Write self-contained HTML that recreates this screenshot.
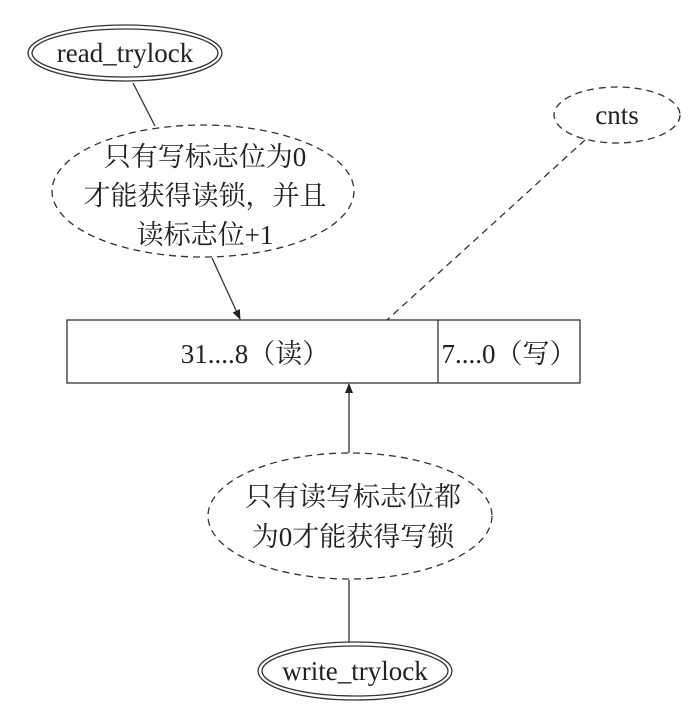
<!DOCTYPE html>
<html><head><meta charset="utf-8"><style>
html,body{margin:0;padding:0;background:#fff;}
</style></head><body>
<svg width="696" height="709" viewBox="0 0 696 709" xmlns="http://www.w3.org/2000/svg">
<defs><marker id="a" markerWidth="10" markerHeight="10" refX="9" refY="5" orient="auto" markerUnits="userSpaceOnUse"><path d="M0,1 L10,5 L0,9 Z" fill="#222"/></marker></defs>
<g fill="none" stroke="#333" stroke-width="1.3">
<ellipse cx="125" cy="53" rx="97" ry="28"/>
<ellipse cx="125" cy="53" rx="93" ry="24"/>
<ellipse cx="203" cy="191" rx="151" ry="66" stroke-dasharray="7,5"/>
<ellipse cx="617" cy="115" rx="63" ry="28" stroke-dasharray="7,5"/>
<line x1="133" y1="83" x2="155" y2="126"/>
<line x1="212" y1="258" x2="240" y2="319" marker-end="url(#a)"/>
<line x1="585" y1="140" x2="387" y2="320" stroke-dasharray="7,5"/>
<rect x="67" y="320" width="513" height="63"/>
<line x1="438" y1="320" x2="438" y2="383"/>
<line x1="349" y1="453" x2="349" y2="384" marker-end="url(#a)"/>
<ellipse cx="350" cy="516" rx="142" ry="63" stroke-dasharray="7,5"/>
<line x1="349" y1="580" x2="349" y2="642"/>
<ellipse cx="355" cy="671" rx="97" ry="29"/>
<ellipse cx="355" cy="671" rx="93" ry="25"/>
</g>
<g font-size="27" text-anchor="middle" fill="#222" font-family="'Liberation Serif','Noto Serif CJK SC',serif">
<text x="125" y="62">read_trylock</text>
<text x="205" y="166">只有写标志位为0</text>
<text x="205" y="205">才能获得读锁，并且</text>
<text x="205" y="244">读标志位+1</text>
<text x="617" y="124">cnts</text>
<text x="255" y="363">31....8（读）</text>
<text x="509" y="363">7....0（写）</text>
<text x="353" y="506">只有读写标志位都</text>
<text x="353" y="546">为0才能获得写锁</text>
<text x="355" y="680">write_trylock</text>
</g>
</svg>
</body></html>
